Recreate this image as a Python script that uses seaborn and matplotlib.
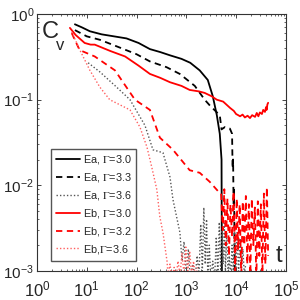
import numpy as np
import pandas as pd
import matplotlib as mpl
mpl.use('Agg')
import matplotlib.pyplot as plt
from matplotlib.ticker import LogLocator, NullFormatter
import seaborn as sns

# values (t, C_v)
ea30_t = [5.8, 8, 11.6, 20, 35, 63, 110, 186, 300, 470, 800, 1200, 1860, 2700, 3400, 4100, 4700, 5100, 5200]
ea30_c = [0.76, 0.70, 0.63, 0.58, 0.55, 0.52, 0.46, 0.39, 0.36, 0.33, 0.30, 0.27, 0.22, 0.17, 0.11, 0.066, 0.04, 0.02, 0.0005]

ea33_t = [5.8, 10, 18.6, 40, 100, 186, 400, 740, 1480, 2340, 3000, 4700, 5100, 6000, 7500, 8300, 8500, 8700, 8900, 9100, 9300, 9500]
ea33_c = [0.65, 0.55, 0.50, 0.42, 0.34, 0.28, 0.24, 0.20, 0.145, 0.10, 0.085, 0.066, 0.045, 0.048, 0.046, 0.040, 0.016, 0.02, 0.006, 0.009, 0.002, 0.0005]

ea36_t = [10.7, 18.6, 40, 74, 148, 214, 340, 470, 540, 745, 820,
          900, 1000, 1100, 1200, 1350, 1500, 1650, 1800, 1950, 2100, 2250, 2400, 2550, 2700,
          2900, 3100, 3400, 3700, 4000, 4300, 4600, 4900, 5200, 5500, 5800, 6100, 6500, 6900,
          7300, 7800, 8300, 8800, 9300, 9900, 10500, 11200, 12000, 12800, 13700, 14600, 15600]
ea36_c = [0.27, 0.21, 0.14, 0.10, 0.05, 0.026, 0.024, 0.0125, 0.0068, 0.0028, 0.0013,
          0.0022, 0.0009, 0.0018, 0.0008, 0.0012, 0.0008, 0.0015, 0.0009, 0.0035, 0.0010, 0.0055, 0.0012, 0.0040, 0.0009,
          0.0020, 0.0008, 0.0013, 0.0008, 0.0025, 0.0009, 0.0037, 0.0010, 0.0030, 0.0012, 0.0036, 0.0010, 0.0028, 0.0009,
          0.0015, 0.0008, 0.0020, 0.0010, 0.0030, 0.0011, 0.0028, 0.0009, 0.0024, 0.0010, 0.0018, 0.0009, 0.0012]

eb30_t = [4.6, 6, 9.1, 12, 14.5, 30, 59, 110, 186, 300, 470, 800, 1170, 1800, 2340, 3200, 4100, 5500, 7600,
          9000, 10000, 11000, 12000, 13500, 15000, 17000, 19000, 21000, 24000, 26000, 28000, 30000, 33000,
          35000, 38000, 40000, 41000, 42500, 44000]
eb30_c = [0.69, 0.57, 0.46, 0.44, 0.44, 0.37, 0.32, 0.25, 0.20, 0.18, 0.16, 0.145, 0.13, 0.125, 0.12, 0.11, 0.10, 0.095, 0.080,
          0.074, 0.068, 0.066, 0.064, 0.067, 0.062, 0.065, 0.061, 0.066, 0.063, 0.070, 0.064, 0.071, 0.068,
          0.076, 0.072, 0.082, 0.076, 0.088, 0.092]

eb32_t = [5, 7.2, 14.5, 37, 93, 186, 295, 540, 1170, 1860, 2950, 4700,
          5000, 5400, 5800, 6200, 6700, 7200, 7700, 8300, 8900, 9600, 10300, 11000, 11800, 12700, 13600,
          14600, 15700, 16800, 18000, 19300, 20700, 22200, 23800, 25500, 27300, 29300, 31400, 33700, 36100,
          38700, 41500, 44000]
eb32_c = [0.60, 0.38, 0.32, 0.22, 0.10, 0.076, 0.036, 0.026, 0.015, 0.014, 0.011, 0.0081,
          0.008, 0.003, 0.009, 0.002, 0.007, 0.0015, 0.006, 0.0025, 0.0085, 0.001, 0.007, 0.0018, 0.006, 0.0008, 0.0065,
          0.002, 0.0075, 0.0012, 0.006, 0.0009, 0.007, 0.002, 0.0055, 0.0008, 0.0065, 0.0015, 0.006, 0.0009, 0.008,
          0.0012, 0.0095, 0.0015]

eb36_t = [5, 7.3, 11.6, 18.4, 29, 74, 117, 162, 204, 256, 294, 340, 410,
          430, 470, 520, 570, 620, 680, 750, 820, 900, 980, 1070, 1170, 1280, 1400, 1530, 1670]
eb36_c = [0.62, 0.38, 0.22, 0.14, 0.10, 0.076, 0.048, 0.028, 0.016, 0.0089, 0.0043, 0.0028, 0.0013,
          0.0009, 0.0012, 0.0008, 0.0011, 0.0008, 0.0013, 0.0009, 0.0016, 0.0009, 0.0019, 0.0010, 0.0017, 0.0009, 0.0013, 0.0008, 0.0011]

labels = ['Ea, $\\Gamma$=3.0', 'Ea, $\\Gamma$=3.3', 'Ea, $\\Gamma$=3.6',
          'Eb, $\\Gamma$=3.0', 'Eb, $\\Gamma$=3.2', 'Eb,$\\Gamma$=3.6']

sns.set_style('ticks')
plt.rcParams['font.family'] = ['Liberation Sans', 'DejaVu Sans']
plt.rcParams['mathtext.fontset'] = 'stix'
plt.rcParams['xtick.direction'] = 'in'
plt.rcParams['ytick.direction'] = 'in'

fig = plt.figure(figsize=(3, 3), dpi=100)
ax = fig.add_axes([0.123, 0.097, 0.83, 0.856])

series = [
    (ea30_t, ea30_c, 'black', '-', 1.3),
    (ea33_t, ea33_c, 'black', (0, (3.5, 2.5)), 1.3),
    (ea36_t, ea36_c, '#555555', (0, (1, 1.5)), 1.0),
    (eb30_t, eb30_c, 'red', '-', 1.3),
    (eb32_t, eb32_c, 'red', (0, (3.5, 2.5)), 1.3),
    (eb36_t, eb36_c, '#ff6060', (0, (1, 1.5)), 1.0),
]
for (t, c, col, ls, lw), lab in zip(series, labels):
    df = pd.DataFrame({'t': t, 'C': c})
    sns.lineplot(data=df, x='t', y='C', ax=ax, color=col, linestyle=ls, lw=lw,
                 estimator=None, sort=False, label=lab)

ax.set_xscale('log')
ax.set_yscale('log')
ax.set_xlim(1, 1e5)
ax.set_ylim(1e-3, 1)
ax.xaxis.set_major_locator(LogLocator(base=10, numticks=10))
ax.xaxis.set_minor_locator(LogLocator(base=10, subs=np.arange(2, 10), numticks=10))
ax.xaxis.set_minor_formatter(NullFormatter())
ax.set_xlabel('')
ax.set_ylabel('')
ax.tick_params(which='both', top=True, right=True)
ax.tick_params(axis='y', pad=2, labelsize=11)
ax.tick_params(axis='x', pad=6, labelsize=12)
ax.tick_params(which='major', length=3, width=0.6)
ax.tick_params(which='minor', length=1.5, width=0.5)
for s in ax.spines.values():
    s.set_linewidth(0.8)
    s.set_color('#333333')

ax.text(0.018, 0.975, 'C', transform=ax.transAxes, fontsize=17, va='top', ha='left')
ax.text(0.078, 0.905, 'v', transform=ax.transAxes, fontsize=12, va='top', ha='left')
ax.text(0.985, 0.015, 't', transform=ax.transAxes, fontsize=17, va='bottom', ha='right')

leg = ax.legend(loc='lower left', bbox_to_anchor=(0.058, 0.04), fontsize=7.8, frameon=True,
                fancybox=False, edgecolor='#555555', framealpha=1, handlelength=2.2,
                borderpad=0.45, labelspacing=0.45, handletextpad=0.25, borderaxespad=0)
leg.get_frame().set_linewidth(1.0)

fig.savefig('out.png', dpi=100)
